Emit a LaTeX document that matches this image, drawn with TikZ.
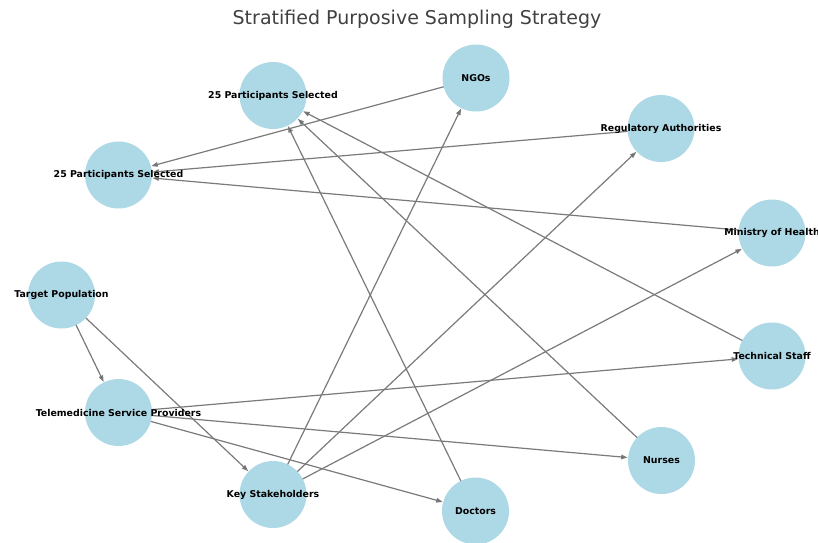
\documentclass[tikz,border=0pt]{standalone}
\usepackage{fontspec}
\setmainfont{DejaVu Sans}
\usetikzlibrary{arrows.meta}
\definecolor{nodeblue}{HTML}{ADD8E6}
\definecolor{edgegray}{HTML}{7A7A7A}
\definecolor{tipgray}{HTML}{555555}
\definecolor{titlegray}{HTML}{404040}
\tikzset{
  vtx/.style={circle, fill=nodeblue, minimum size=67pt, inner sep=0pt, outer sep=0pt},
  vlabel/.style={font=\fontsize{9.4}{10}\selectfont\bfseries, text=black, inner sep=0pt},
  edge/.style={draw=edgegray, line width=1.2pt, -{Triangle[length=6.5pt,width=4.5pt,fill=tipgray]}, shorten >=0.5pt}
}
\begin{document}
\begin{tikzpicture}[x=1pt,y=-1pt]
\useasboundingbox (0,0) rectangle (818,542);
\clip (0,0) rectangle (818,542);
\node[font=\fontsize{19}{22}\selectfont, text=titlegray] (title) at (417,19) {Stratified Purposive Sampling Strategy};
% circles
\node[vtx] (p2) at (273,95.5) {};
\node[vtx] (ngo) at (476,78) {};
\node[vtx] (reg) at (661,128.5) {};
\node[vtx] (p1) at (118.5,175) {};
\node[vtx] (moh) at (772,233) {};
\node[vtx] (tp) at (61.5,295) {};
\node[vtx] (ts) at (772,356) {};
\node[vtx] (tsp) at (118.5,412.5) {};
\node[vtx] (nur) at (661.5,460.5) {};
\node[vtx] (ks) at (273,494.5) {};
\node[vtx] (doc) at (475.5,511) {};
% edges
\draw[edge] (tp) -- (tsp);
\draw[edge] (tp) -- (ks);
\draw[edge] (tsp) -- (ts);
\draw[edge] (tsp) -- (nur);
\draw[edge] (tsp) -- (doc);
\draw[edge] (ks) -- (ngo);
\draw[edge] (ks) -- (reg);
\draw[edge] (ks) -- (moh);
\draw[edge] (ts) -- (p2);
\draw[edge] (nur) -- (p2);
\draw[edge] (doc) -- (p2);
\draw[edge] (ngo) -- (p1);
\draw[edge] (reg) -- (p1);
\draw[edge] (moh) -- (p1);
% labels
\node[vlabel] (lp2) at (p2) {25 Participants Selected};
\node[vlabel] (lngo) at (ngo) {NGOs};
\node[vlabel] (lreg) at (reg) {Regulatory Authorities};
\node[vlabel] (lp1) at (p1) {25 Participants Selected};
\node[vlabel] (lmoh) at (moh) {Ministry of Health};
\node[vlabel] (ltp) at (tp) {Target Population};
\node[vlabel] (lts) at (ts) {Technical Staff};
\node[vlabel] (ltsp) at (tsp) {Telemedicine Service Providers};
\node[vlabel] (lnur) at (nur) {Nurses};
\node[vlabel] (lks) at (ks) {Key Stakeholders};
\node[vlabel] (ldoc) at (doc) {Doctors};
\end{tikzpicture}
\end{document}
